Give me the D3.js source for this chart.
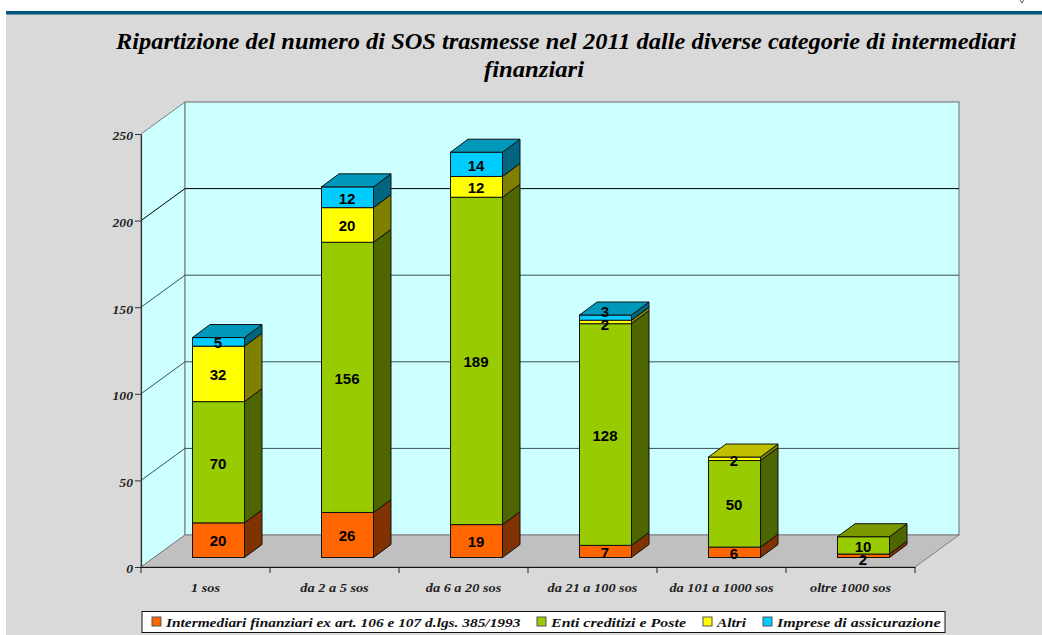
<!DOCTYPE html>
<html><head><meta charset="utf-8">
<style>html,body{margin:0;padding:0;background:#fff}svg{display:block}</style>
<script src="https://cdn.jsdelivr.net/npm/d3@7"></script></head>
<body><svg id="c" width="1042" height="635"></svg>
<script>
const titleLines = ["Ripartizione del numero di SOS trasmesse nel 2011 dalle diverse categorie di intermediari","finanziari"];
const categories = ["1 sos","da 2 a 5 sos","da 6 a 20 sos","da 21 a 100 sos","da 101 a 1000 sos","oltre 1000 sos"];
const seriesNames = ["Intermediari finanziari ex art. 106 e 107 d.lgs. 385/1993","Enti creditizi e Poste","Altri","Imprese di assicurazione"];
const intermediari = [20,26,19,7,6,2];
const enti = [70,156,189,128,50,10];
const altri = [32,20,12,2,2,0];
const imprese = [5,12,14,3,0,0];
const yTicks = [0,50,100,150,200,250];
const frontColors = ["#ff6600","#99cc00","#ffff00","#00ccff"];
const sideColors = ["#803300","#4d6600","#808000","#006680"];
const topColors = ["#cc5200","#7a9900","#bfbf00","#0099bb"];
const labelNudge = {"3-3":-7,"3-2":2,"4-2":1,"5-0":3};

const svg = d3.select("#c");
const values = [intermediari,enti,altri,imprese];
const y = d3.scaleLinear().domain([0,250]).range([567,134]);
const x = d3.scaleBand().domain(categories).range([141,915]).paddingInner(0).paddingOuter(0);
const wallDx = 44, wallDy = -32, barDx = 17.5, barDy = -13, barBase = 9.5, barW = 52;
const serif = "Liberation Serif";
const stretch = (sel,f)=>sel.each(function(){const w=this.getComputedTextLength();d3.select(this).attr("textLength",w*f).attr("lengthAdjust","spacingAndGlyphs");});

svg.append("rect").attr("x",6).attr("y",12).attr("width",1036).attr("height",623).attr("fill","#d9d9d9");
svg.append("rect").attr("x",6).attr("y",11).attr("width",1036).attr("height",3.5).attr("fill","#00577f");
svg.append("path").attr("d","M1020 0 L1022 3 L1023.5 0").attr("fill","none").attr("stroke","#333").attr("stroke-width",0.8);

svg.selectAll(".t").data(titleLines).join("text").attr("class","t")
 .attr("x",(d,i)=>[566,534][i]).attr("y",(d,i)=>[49,77][i]).attr("text-anchor","middle")
 .attr("font-family",serif).attr("font-weight","bold").attr("font-style","italic").attr("font-size",22.5)
 .attr("textLength",(d,i)=>[900,100][i]).attr("lengthAdjust","spacingAndGlyphs").text(d=>d);

const L = x.range()[0], R = x.range()[1], y0 = y(0), yT = y(250);
const poly = pts => pts.map(p=>p.join(",")).join(" ");
svg.append("polygon").attr("points",poly([[L,y0],[L+wallDx,y0+wallDy],[L+wallDx,yT+wallDy],[L,yT]])).attr("fill","#ccffff").attr("stroke","#808080").attr("stroke-width",1);
svg.append("rect").attr("x",L+wallDx).attr("y",yT+wallDy).attr("width",R-L).attr("height",y0-yT).attr("fill","#ccffff").attr("stroke","#808080").attr("stroke-width",1.2);
svg.append("polygon").attr("points",poly([[L,y0],[L+wallDx,y0+wallDy],[R+wallDx,y0+wallDy],[R,y0]])).attr("fill","#c0c0c0").attr("stroke","#808080").attr("stroke-width",1);
yTicks.filter(d=>d>0&&d<250).forEach(d=>{
  const c = d==200?"#000":"#3c5050";
  svg.append("polyline").attr("points",poly([[L,y(d)],[L+wallDx,y(d)+wallDy],[R+wallDx,y(d)+wallDy]])).attr("fill","none").attr("stroke",c).attr("stroke-width",1);
});
const yAxis = d3.axisLeft(y).tickValues(yTicks).tickSize(6).tickSizeOuter(0);
const ga = svg.append("g").attr("transform",`translate(${L},0)`).call(yAxis);
ga.select(".domain").attr("stroke","#333").attr("stroke-width",1.2);
ga.selectAll("line").attr("stroke","#333");
ga.selectAll("text").attr("font-family",serif).attr("font-style","italic").attr("font-weight","bold").attr("font-size",13).attr("fill","#222").attr("x",-8).attr("dy","0.45em").call(stretch,1.05);
const xAxis = d3.axisBottom(x).tickSize(0);
const gx = svg.append("g").attr("transform",`translate(0,${y0})`).call(xAxis);
gx.select(".domain").attr("stroke","#111").attr("stroke-width",1.2);
gx.selectAll("text").attr("font-family",serif).attr("font-style","italic").attr("font-weight","bold").attr("font-size",13).attr("fill","#222").attr("y",20).attr("dy","0.35em").call(stretch,1.1);
categories.concat([null]).forEach(c=>{
  const tx = c===null?R:x(c);
  gx.append("line").attr("x1",tx).attr("x2",tx).attr("y1",0).attr("y2",6).attr("stroke","#222");
});

categories.forEach((c,i)=>{
  let acc = 0;
  const X0 = x(c)+(x.bandwidth()-barW)/2+13;
  const segs = values.map((v,s)=>({s,v:v[i]})).filter(d=>d.v>0);
  const g = svg.append("g");
  const labels=[];
  segs.forEach((d,k)=>{
    const yb = y(acc)-barBase, yt = y(acc+d.v)-barBase;
    acc += d.v;
    g.append("polygon").attr("points",poly([[X0+barW,yb],[X0+barW+barDx,yb+barDy],[X0+barW+barDx,yt+barDy],[X0+barW,yt]])).attr("fill",sideColors[d.s]).attr("stroke","#111").attr("stroke-width",1);
    g.append("rect").attr("x",X0).attr("y",yt).attr("width",barW).attr("height",yb-yt).attr("fill",frontColors[d.s]).attr("stroke","#111").attr("stroke-width",1);
    if(k==segs.length-1) g.append("polygon").attr("points",poly([[X0,yt],[X0+barDx,yt+barDy],[X0+barW+barDx,yt+barDy],[X0+barW,yt]])).attr("fill",topColors[d.s]).attr("stroke","#111").attr("stroke-width",1);
    labels.push({x:X0+barW/2-0.5,y:(yb+yt)/2+(labelNudge[i+"-"+d.s]||0),v:d.v});
  });
  labels.forEach(l=>g.append("text").attr("x",l.x).attr("y",l.y).attr("dy","0.42em").attr("text-anchor","middle")
    .attr("font-family","Liberation Sans").attr("font-weight","bold").attr("font-size",15).attr("fill","#000").text(l.v));
});

svg.append("rect").attr("x",142).attr("y",611.5).attr("width",803).attr("height",21).attr("fill","#fff").attr("stroke","#111").attr("stroke-width",1);
const legX=[152,537,703,763], txX=[166,551,717,777], legStretch=[1.14,1.18,1.14,1.185];
seriesNames.forEach((n,i)=>{
  svg.append("rect").attr("x",legX[i]).attr("y",617).attr("width",9).attr("height",9).attr("fill",frontColors[i]).attr("stroke","#555");
  svg.append("text").attr("x",txX[i]).attr("y",626.5).attr("font-family",serif).attr("font-style","italic").attr("font-weight","bold").attr("font-size",13.5).attr("fill","#111").text(n).call(stretch,legStretch[i]);
});
</script></body></html>
